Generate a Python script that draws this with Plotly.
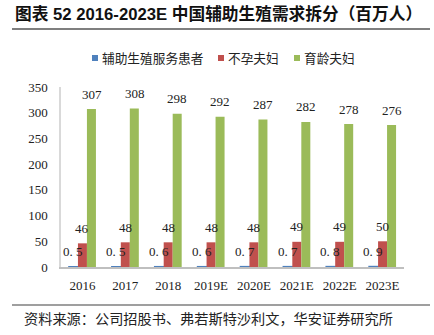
import plotly.graph_objects as go

categories = ["2016", "2017", "2018", "2019E", "2020E", "2021E", "2022E", "2023E"]
art_patients = [0.5, 0.5, 0.6, 0.6, 0.7, 0.7, 0.8, 0.9]
infertile_couples = [46, 48, 48, 48, 48, 49, 49, 50]
childbearing_couples = [307, 308, 298, 292, 287, 282, 278, 276]
y_ticks = [0, 50, 100, 150, 200, 250, 300, 350]

series = [
    ("辅助生殖服务患者", art_patients, "#4F81BD"),
    ("不孕夫妇", infertile_couples, "#C0504D"),
    ("育龄夫妇", childbearing_couples, "#9BBB59"),
]

L, R, T, B = 61, 30, 87, 68
W, H = 434, 335
pw, ph = W - L - R, H - T - B

def px(x):
    return (x - L) / pw

def py(y):
    return (H - B - y) / ph

fig = go.Figure()
for si, (name, vals, color) in enumerate(series):
    fig.add_trace(go.Bar(
        x=categories, y=vals, name=name,
        marker=dict(color=color, line=dict(width=1.5 if si == 0 else 0, color=color)),
        showlegend=False,
    ))

serif = "Liberation Serif, Times New Roman, serif"
cjk = "Noto Sans CJK SC, sans-serif"

ann = []
shapes = []
for si, (name, vals, color) in enumerate(series):
    for i, v in enumerate(vals):
        txt = str(v).replace(".", ". ") if isinstance(v, float) else str(v)
        ann.append(dict(
            x=i, y=v, xref="x", yref="y",
            text=txt, showarrow=False, yanchor="middle", yshift=15,
            xshift=(si - 1) * 9.3,
            font=dict(family=serif, size=13, color="#222"),
        ))

# manual legend
legend_pos = [95, 221, 297]
for (name, vals, color), lx in zip(series, legend_pos):
    shapes.append(dict(type="rect", xref="paper", yref="paper",
                       x0=px(lx - 3), x1=px(lx + 3), y0=py(61), y1=py(55),
                       fillcolor=color, line=dict(width=0)))
    ann.append(dict(x=px(lx + 5), y=py(58), xref="paper", yref="paper",
                    xanchor="left", yanchor="middle", text=name, showarrow=False,
                    font=dict(family=cjk, size=12.7, color="#222")))

ann.append(dict(
    x=px(13), y=py(14), xref="paper", yref="paper", xanchor="left", yanchor="middle",
    text="<b>图表 52 2016-2023E 中国辅助生殖需求拆分（百万人）</b>", showarrow=False,
    font=dict(family="Liberation Sans, " + cjk, size=16.7, color="#111"),
))
ann.append(dict(
    x=px(22), y=py(318), xref="paper", yref="paper", xanchor="left", yanchor="middle",
    text="资料来源：公司招股书、弗若斯特沙利文，华安证券研究所", showarrow=False,
    font=dict(family=cjk, size=14.2, color="#222"),
))

shapes += [
    dict(type="line", xref="paper", yref="paper", x0=px(12), x1=px(430), y0=py(29), y1=py(29),
         line=dict(color="#7f7f7f", width=2)),
    dict(type="line", xref="paper", yref="paper", x0=px(12), x1=px(430), y0=py(305), y1=py(305),
         line=dict(color="#7f7f7f", width=1.5)),
]

fig.update_layout(
    width=W, height=H,
    margin=dict(l=L, r=R, t=T, b=B, pad=0),
    paper_bgcolor="white", plot_bgcolor="white",
    barmode="group", bargap=0.37, bargroupgap=0,
    showlegend=False,
    annotations=ann, shapes=shapes,
    xaxis=dict(type="category", range=[-0.5, len(categories) - 0.5], autorange=False,
               showline=True, linecolor="#bfbfbf", linewidth=1.5, ticks="",
               showgrid=False,
               tickfont=dict(family=serif, size=13, color="#222"), ticklabelstandoff=6),
    yaxis=dict(range=[0, 350], tickvals=y_ticks, showline=True, linecolor="#d9d9d9", linewidth=1.5,
               ticks="", showgrid=False, zeroline=False,
               tickfont=dict(family=serif, size=13, color="#222"), ticklabelstandoff=9),
)

fig.write_html("out.html")
